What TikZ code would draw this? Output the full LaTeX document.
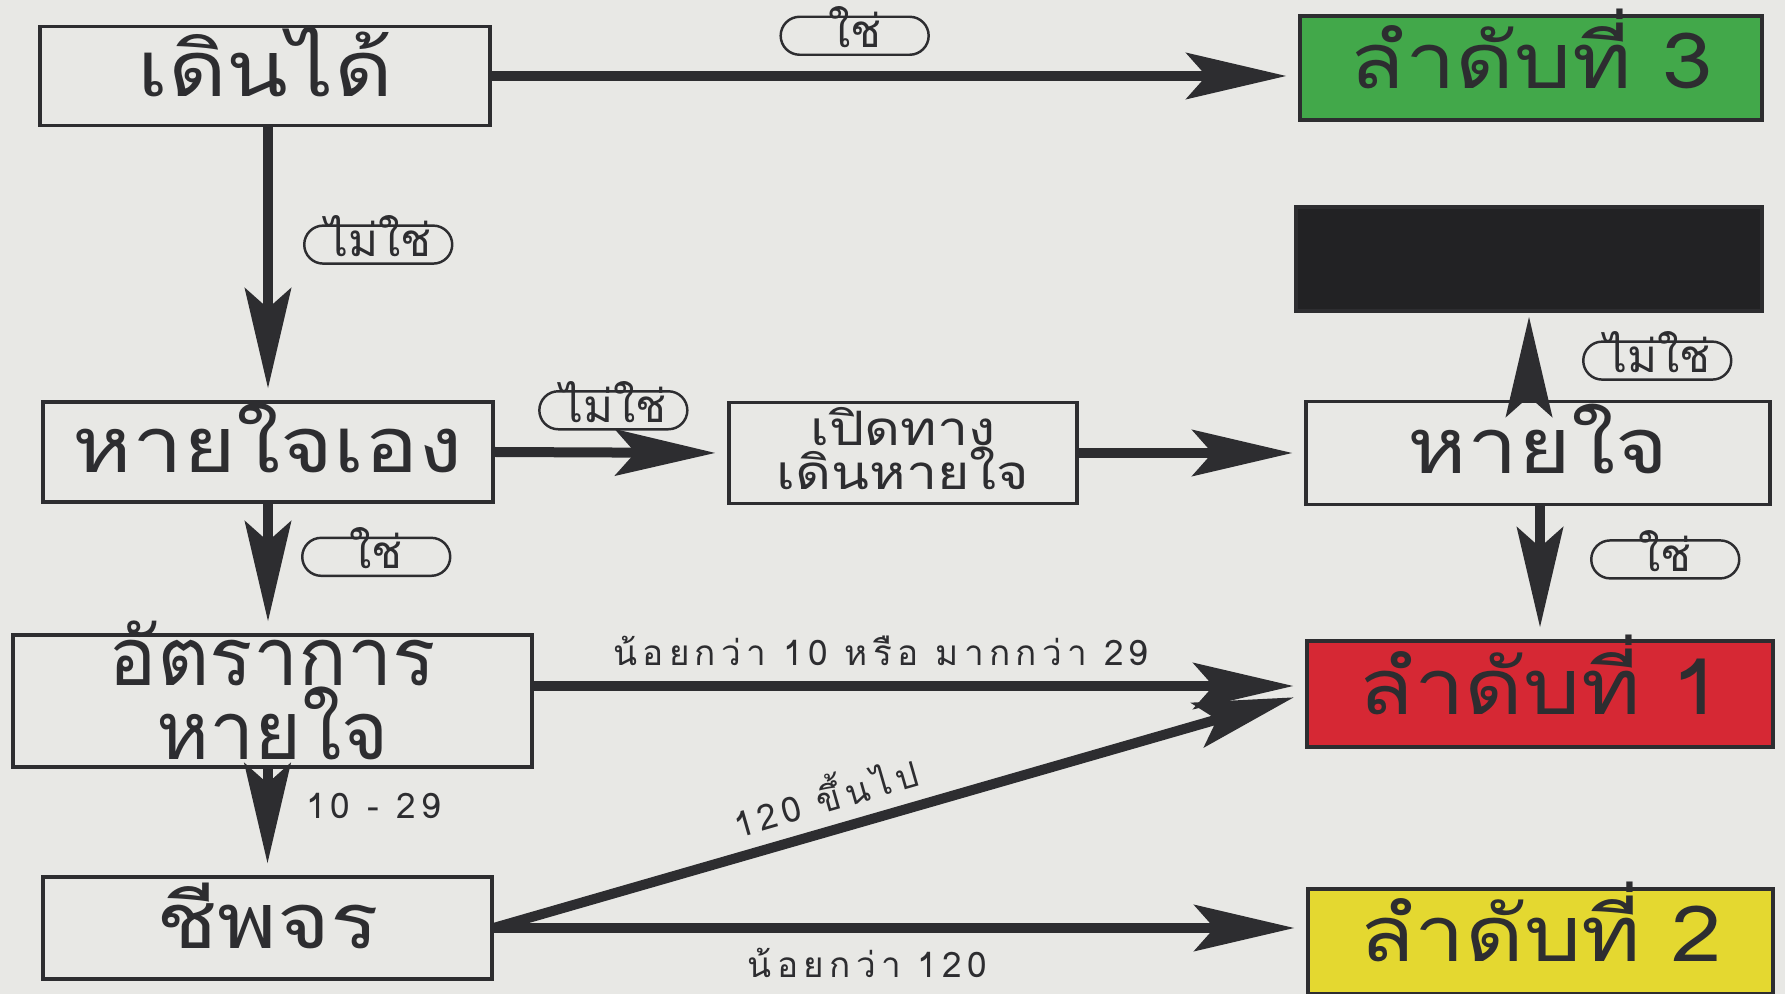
\documentclass[tikz,border=0pt]{standalone}
\usepackage{fontspec}
\setmainfont[Script=Thai]{Loma}
\newfontfamily\condfont[Script=Thai,LetterSpace=15]{Loma}
\newfontfamily\widefont[Script=Thai,FakeStretch=1.17]{Loma}
\usetikzlibrary{arrows.meta,shapes.misc}
\definecolor{bgpaper}{RGB}{232,232,229}
\definecolor{inkgray}{RGB}{45,45,48}
\definecolor{triagegreen}{RGB}{66,168,74}
\definecolor{triagered}{RGB}{214,40,52}
\definecolor{triageyellow}{RGB}{228,216,48}
\definecolor{triageblack}{RGB}{34,34,36}

\begin{document}
\begin{tikzpicture}[
  box/.style={draw=inkgray, line width=0.9pt, text=inkgray, align=center, inner sep=0pt},
  bigbox/.style={box, font=\widefont\fontsize{22}{21}\selectfont, text height=11.5pt, text depth=0pt},
  arr/.style={draw=inkgray, line width=1mm, -{Stealth[length=10mm,width=4.6mm,inset=2mm]}, shorten >=1.2mm},
  yesno/.style={draw=inkgray, line width=0.7pt, rounded rectangle, minimum width=14.8mm, minimum height=3.8mm, inner sep=0pt, text=inkgray, font=\fontsize{13}{13}\selectfont, text height=6.8pt, text depth=0pt},
  cond/.style={text=inkgray, font=\condfont\fontsize{10}{11}\selectfont, inner sep=1pt}
]
\def\linegap{\lineskiplimit=-20pt\lineskip=0pt}

\fill[bgpaper] (0,0) rectangle (17.85,-9.94);
\useasboundingbox (0,0) rectangle (17.85,-9.94);

% left column
\node[bigbox, minimum width=4.5cm, minimum height=0.99cm] (walk) at (2.65,-0.76) {เดินได้};
\node[bigbox, minimum width=4.5cm, minimum height=1cm] (selfbr) at (2.68,-4.52) {หายใจเอง};
\node[box, minimum width=5.19cm, minimum height=1.32cm, font=\fontsize{23}{21}\selectfont\linegap, text height=11.6mm, text depth=0mm] (rate) at (2.725,-7.01) {อัตราการ\\หายใจ};
\node[bigbox, minimum width=4.49cm, minimum height=1.02cm] (pulse) at (2.675,-9.28) {ชีพจร};

% middle and right
\node[box, minimum width=3.48cm, minimum height=1.01cm, font=\widefont\fontsize{13.5}{12.6}\selectfont\linegap, text height=7.3mm, text depth=0mm] (airway) at (9.03,-4.53) {เปิดทาง\\เดินหายใจ};
\node[bigbox, minimum width=4.64cm, minimum height=1.03cm] (breath) at (15.38,-4.53) {หายใจ};
\node[bigbox, fill=triagegreen, minimum width=4.62cm, minimum height=1.04cm] (green) at (15.31,-0.68) {ลำดับที่ 3};
\node[box, fill=triageblack, minimum width=4.66cm, minimum height=1.04cm] (black) at (15.29,-2.59) {};
\node[bigbox, fill=triagered, minimum width=4.66cm, minimum height=1.06cm] (red) at (15.40,-6.94) {ลำดับที่ 1};
\node[bigbox, fill=triageyellow, minimum width=4.65cm, minimum height=1.05cm] (yellow) at (15.405,-9.415) {ลำดับที่ 2};

\draw[arr] (walk.east) -- (walk.east -| green.west) node[yesno, pos=0.45, above=2mm] (yes1) {ใช่};
\draw[arr] (walk.south -| selfbr) -- (selfbr.north) node[yesno, pos=0.43, right=3.5mm] (no1) {ไม่ใช่};
\draw[arr] (selfbr.east) -- (airway.west) node[yesno, pos=0.51, above=2.2mm] (no2) {ไม่ใช่};
\draw[arr] (airway.east) -- (breath.west);
\draw[arr, shorten >=0.4mm] (breath.north -| black) -- (black.south) node[yesno, pos=0.45, right=5.3mm] (no3) {ไม่ใช่};
\draw[arr] (breath.south -| red) -- (red.north) node[yesno, pos=0.4, right=5mm] (yes2) {ใช่};
\draw[arr] (selfbr.south) -- (selfbr.south |- rate.north) node[yesno, pos=0.41, right=3.3mm] (yes3) {ใช่};
\draw[arr] ([yshift=1.5mm]rate.east) -- ([yshift=1.5mm]rate.east -| red.west) node[cond, pos=0.45, above=1.2mm] (lt10) {น้อยกว่า 10 หรือ มากกว่า 29};
\draw[arr] (rate.south -| pulse) -- (pulse.north) node[cond, pos=0.35, right=3mm] (mid) {10 - 29};
\draw[arr] (pulse.east) -- (red.west) node[cond, pos=0.42, sloped, above=1mm] (hi) {120 ขึ้นไป};
\draw[arr] (pulse.east) -- (pulse.east -| yellow.west) node[cond, pos=0.46, below=1.2mm] (lo) {น้อยกว่า 120};

\end{tikzpicture}
\end{document}
